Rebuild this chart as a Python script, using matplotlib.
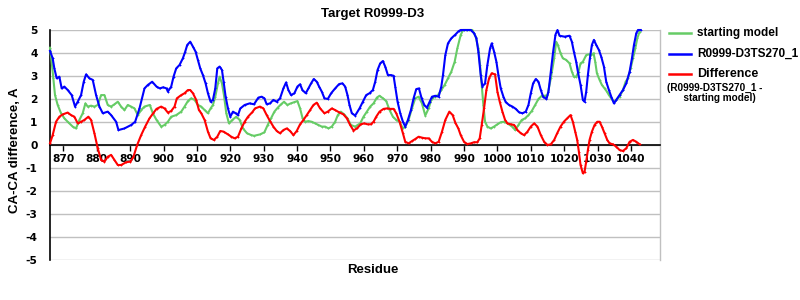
import matplotlib
matplotlib.use("Agg")
import matplotlib.pyplot as plt
from matplotlib.lines import Line2D
from matplotlib.font_manager import FontProperties

# ---- data ----
blue_x = [866.0, 866.8, 867.3, 868.0, 868.8, 869.5, 870.3, 871.3, 872.5, 873.5, 874.3, 875.3, 876.1, 876.8,
          877.8, 878.8, 879.8, 880.8, 881.8, 883.3, 884.3, 885.8, 886.5, 888.3, 890.3, 891.5, 892.8, 894.3,
          895.3, 896.6, 897.9, 898.9, 899.9, 900.9, 901.3, 902.3, 903.0, 903.8, 904.8, 905.8, 906.5, 907.1,
          908.0, 908.8, 909.6, 910.3, 911.0, 911.8, 912.6, 913.3, 914.1, 914.8, 915.5, 916.1, 916.8, 917.5,
          918.0, 918.6, 919.3, 920.0, 920.8, 921.6, 922.3, 923.0, 924.3, 925.8, 927.1, 928.4, 929.4, 930.2,
          930.9, 931.9, 932.9, 933.9, 934.9, 935.9, 936.7, 937.4, 938.2, 939.2, 940.1, 940.9, 941.6, 942.6,
          943.4, 944.2, 945.0, 945.9, 946.6, 947.4, 948.2, 949.2, 950.2, 951.4, 952.6, 953.6, 954.4, 955.1,
          955.7, 956.4, 957.4, 958.7, 959.7, 960.7, 961.7, 962.7, 963.4, 964.1, 964.9, 965.7, 966.4, 967.2,
          968.1, 968.9, 969.4, 970.1, 970.9, 971.7, 972.4, 973.2, 974.1, 974.9, 975.7, 976.5, 977.3, 978.1,
          978.9, 979.7, 980.4, 981.4, 982.4, 983.2, 983.7, 984.4, 985.2, 986.2, 987.4, 988.4, 989.0, 990.0,
          991.0, 992.0, 993.0, 993.7, 994.3, 995.0, 995.5, 996.3, 997.0, 997.8, 998.3, 999.0, 999.7, 1000.3,
          1001.0, 1001.8, 1002.5, 1003.5, 1004.5, 1005.5, 1006.5, 1007.5, 1008.5, 1009.3, 1010.0, 1010.7,
          1011.5, 1012.3, 1013.0, 1013.7, 1014.7, 1015.3, 1016.0, 1016.7, 1017.4, 1018.0, 1018.6, 1020.1,
          1021.6, 1022.3, 1022.9, 1023.6, 1024.1, 1024.9, 1025.6, 1026.1, 1026.6, 1027.1, 1027.7, 1028.3,
          1028.9, 1029.6, 1030.4, 1031.1, 1031.9, 1032.6, 1033.4, 1034.1, 1034.9, 1035.6, 1036.6, 1037.6,
          1038.6, 1039.6, 1040.3, 1040.9, 1041.6, 1042.1, 1042.9]
blue_y = [4.09, 3.77, 3.33, 2.90, 2.97, 2.46, 2.54, 2.39, 2.17, 1.67, 1.88, 2.17, 2.75, 3.07,
          2.90, 2.83, 2.17, 1.67, 1.38, 1.45, 1.30, 1.01, 0.65, 0.72, 0.87, 1.01, 1.59, 2.46,
          2.61, 2.75, 2.54, 2.46, 2.51, 2.46, 2.32, 2.54, 2.97, 3.33, 3.48, 3.77, 4.06, 4.35,
          4.49, 4.28, 4.06, 3.70, 3.33, 3.04, 2.68, 2.25, 1.88, 1.96, 2.46, 3.33, 3.41, 3.26,
          2.75, 2.10, 1.59, 1.23, 1.45, 1.38, 1.30, 1.59, 1.74, 1.81, 1.77, 2.06, 2.10, 2.03,
          1.77, 1.81, 1.96, 1.88, 2.03, 2.46, 2.72, 2.39, 2.17, 2.25, 2.54, 2.64, 2.39, 2.25,
          2.46, 2.68, 2.87, 2.75, 2.54, 2.32, 2.03, 2.00, 2.25, 2.46, 2.65, 2.68, 2.54, 2.17,
          1.74, 1.38, 1.28, 1.59, 1.88, 2.17, 2.25, 2.39, 2.75, 3.26, 3.55, 3.65, 3.41, 3.04,
          3.04, 3.01, 2.54, 1.88, 1.38, 1.01, 0.80, 1.09, 1.52, 2.03, 2.43, 2.46, 2.03, 1.74,
          1.62, 1.88, 2.10, 2.14, 2.10, 2.54, 3.04, 3.91, 4.42, 4.64, 4.80, 4.95, 5.00, 5.00,
          5.00, 5.00, 4.86, 4.64, 4.06, 3.04, 2.54, 2.68, 3.48, 4.20, 4.42, 4.06, 3.62, 3.04,
          2.46, 2.10, 1.86, 1.74, 1.67, 1.57, 1.42, 1.38, 1.45, 1.74, 2.25, 2.68,
          2.87, 2.75, 2.39, 2.10, 2.00, 2.32, 3.19, 4.06, 4.80, 5.00, 4.75, 4.71,
          4.75, 4.49, 4.06, 3.62, 3.19, 2.61, 1.96, 1.88, 2.32, 3.04, 3.77, 4.35,
          4.57, 4.35, 4.13, 3.84, 3.41, 2.75, 2.39, 2.10, 1.81, 1.96, 2.17, 2.39,
          2.68, 3.19, 3.77, 4.35, 4.86, 5.00, 5.00]

green_x = [866.0, 866.5, 867.0, 867.5, 868.3, 869.3, 870.3, 871.3, 872.8, 873.8, 874.8, 875.8, 876.6, 877.3,
           878.3, 879.3, 880.3, 881.3, 882.3, 883.3, 884.3, 885.3, 886.3, 887.3, 888.3, 889.3, 890.3, 891.3,
           892.3, 893.3, 894.3, 895.9, 896.8, 897.9, 899.3, 900.3, 901.3, 902.3, 903.8, 905.3, 906.3, 907.3,
           908.3, 909.3, 910.3, 911.3, 912.3, 913.3, 914.1, 914.8, 915.5, 916.3, 916.8, 917.5, 918.1, 918.8,
           919.6, 920.6, 921.8, 922.8, 923.8, 925.0, 926.3, 927.1, 928.9, 930.2, 931.2, 932.2, 933.2, 934.2,
           935.2, 936.1, 937.1, 938.1, 939.1, 940.1, 940.9, 941.6, 942.4, 943.4, 944.4, 945.4, 946.4, 947.4,
           948.4, 949.4, 950.4, 951.4, 952.2, 953.1, 954.1, 955.1, 956.1, 957.4, 958.9, 959.9, 960.9, 961.9,
           962.9, 963.9, 964.7, 965.7, 966.7, 967.7, 968.7, 969.7, 970.7, 971.7, 972.4, 973.4, 974.4, 975.4,
           976.4, 977.4, 978.4, 979.4, 980.2, 981.2, 982.2, 983.2, 984.2, 985.2, 986.2, 987.2, 988.0, 989.0,
           989.7, 990.5, 991.5, 992.5, 993.5, 994.3, 994.8, 995.3, 995.8, 996.3, 997.0, 998.0, 999.0, 1000.0,
           1001.0, 1002.0, 1003.0, 1003.7, 1004.5, 1005.3, 1006.3, 1007.3, 1008.3, 1009.3, 1010.3, 1011.3,
           1012.3, 1013.3, 1014.3, 1015.0, 1016.0, 1017.0, 1017.6, 1018.1, 1018.9, 1019.6, 1020.6, 1021.6,
           1022.3, 1022.9, 1023.6, 1024.3, 1024.9, 1025.6, 1026.6, 1027.3, 1028.1, 1028.8, 1029.3, 1029.8,
           1030.6, 1031.3, 1032.1, 1032.8, 1033.4, 1034.1, 1034.9, 1035.6, 1036.6, 1037.6, 1038.4, 1039.1,
           1039.9, 1040.6, 1041.3, 1041.9, 1042.6]
green_y = [4.23, 3.62, 2.90, 2.17, 1.74, 1.38, 1.16, 1.01, 0.80, 0.72, 1.09, 1.38, 1.81, 1.67,
           1.71, 1.67, 1.74, 2.17, 2.17, 1.74, 1.67, 1.77, 1.88, 1.67, 1.52, 1.74, 1.67, 1.59,
           1.30, 1.52, 1.67, 1.74, 1.38, 1.09, 0.80, 0.87, 1.01, 1.23, 1.30, 1.45, 1.67, 1.91,
           2.03, 1.96, 1.74, 1.67, 1.52, 1.38, 1.59, 1.74, 2.10, 2.68, 2.97, 2.68, 2.17, 1.38,
           0.94, 1.09, 1.23, 1.09, 0.72, 0.51, 0.43, 0.40, 0.46, 0.55, 0.87, 1.16, 1.45, 1.62,
           1.77, 1.88, 1.74, 1.81, 1.86, 1.91, 1.59, 1.19, 1.01, 1.04, 1.01, 0.94, 0.87, 0.80,
           0.80, 0.72, 0.80, 1.01, 1.30, 1.45, 1.33, 1.16, 0.87, 0.80, 0.94, 1.23, 1.45, 1.67,
           1.81, 2.06, 2.14, 2.03, 1.91, 1.52, 1.23, 1.09, 1.01, 0.72, 0.80, 1.09, 1.59, 2.03,
           2.10, 1.81, 1.28, 1.59, 1.96, 2.10, 2.17, 2.39, 2.61, 2.90, 3.19, 3.62, 4.20, 4.78,
           5.00, 5.00, 5.00, 5.00, 4.71, 4.20, 3.48, 2.61, 1.74, 1.01, 0.80, 0.72, 0.80, 0.90,
           0.99, 1.01, 0.94, 0.87, 0.80, 0.65, 0.87, 1.09, 1.16, 1.30, 1.48, 1.74,
           2.00, 2.14, 2.14, 2.17, 2.90, 3.77, 4.49, 4.35, 3.99, 3.77, 3.70, 3.55,
           3.19, 2.97, 2.97, 3.19, 3.55, 3.62, 3.91, 3.94, 3.91, 3.99, 3.62, 3.12,
           2.83, 2.61, 2.46, 2.32, 2.17, 2.03, 1.88, 1.96, 2.10, 2.39, 2.75, 2.90,
           3.33, 3.77, 4.20, 4.64, 4.93]

red_x = [866.0, 866.8, 867.8, 868.8, 869.8, 871.3, 872.3, 873.3, 874.3, 875.3, 876.3, 877.5, 878.3, 879.3,
         880.3, 881.3, 882.3, 883.3, 884.3, 885.3, 886.3, 887.3, 888.8, 890.1, 891.0, 892.1, 893.3, 894.5,
         895.8, 896.9, 897.9, 899.3, 900.3, 901.3, 902.3, 903.3, 904.0, 905.3, 906.3, 907.3, 908.0, 908.8,
         909.8, 910.6, 911.3, 912.3, 913.3, 914.1, 915.1, 916.1, 917.0, 918.0, 919.3, 920.3, 921.3, 922.3,
         923.3, 924.3, 925.3, 926.6, 927.4, 928.9, 929.9, 930.9, 931.9, 932.9, 933.9, 934.9, 935.9, 936.9,
         937.9, 938.9, 939.9, 940.9, 941.9, 942.9, 943.9, 944.9, 945.9, 946.9, 948.2, 949.2, 950.4, 951.4,
         952.6, 953.9, 954.9, 955.9, 956.9, 957.9, 959.1, 960.1, 961.1, 962.1, 962.9, 963.7, 964.7, 965.9,
         966.9, 967.9, 968.9, 969.7, 970.7, 971.7, 972.4, 973.4, 974.4, 975.4, 976.4, 977.4, 978.4, 979.4,
         980.4, 981.4, 982.4, 983.4, 984.4, 985.6, 986.6, 987.4, 988.3, 989.0, 990.0, 991.0, 992.0, 993.0,
         994.0, 994.7, 995.3, 996.0, 996.7, 997.5, 998.3, 999.3, 1000.0, 1000.7, 1001.5, 1002.3, 1003.0,
         1004.0, 1005.0, 1006.0, 1007.0, 1008.0, 1009.0, 1010.0, 1011.0, 1012.0, 1013.0, 1014.0, 1015.0,
         1016.0, 1017.0, 1017.9, 1018.9, 1019.9, 1020.9, 1021.9, 1022.6, 1023.3, 1023.9, 1024.4, 1024.9,
         1025.6, 1026.1, 1026.6, 1027.1, 1027.6, 1028.3, 1029.1, 1029.9, 1030.6, 1031.3, 1032.1, 1032.9,
         1033.6, 1034.6, 1035.6, 1036.6, 1037.6, 1038.6, 1039.6, 1040.6, 1041.6, 1042.6]
red_y = [0.07, 0.43, 1.01, 1.23, 1.33, 1.41, 1.30, 1.23, 0.94, 1.01, 1.09, 1.23, 1.09, 0.51,
         -0.14, -0.65, -0.72, -0.51, -0.43, -0.65, -0.87, -0.87, -0.75, -0.72, -0.51, 0.00, 0.43, 0.80,
         1.16, 1.38, 1.57, 1.67, 1.59, 1.41, 1.48, 1.67, 2.03, 2.17, 2.25, 2.39, 2.39, 2.25,
         1.96, 1.52, 1.38, 1.09, 0.58, 0.29, 0.22, 0.36, 0.61, 0.58, 0.46, 0.36, 0.29, 0.36,
         0.72, 1.01, 1.23, 1.43, 1.59, 1.67, 1.59, 1.30, 1.04, 0.80, 0.61, 0.51, 0.65, 0.72,
         0.61, 0.43, 0.61, 0.90, 1.09, 1.30, 1.52, 1.74, 1.84, 1.59, 1.38, 1.45, 1.59, 1.52,
         1.42, 1.33, 1.16, 0.87, 0.63, 0.72, 0.90, 0.94, 0.90, 0.90, 1.01, 1.23, 1.45, 1.57,
         1.59, 1.57, 1.57, 1.38, 1.01, 0.51, 0.14, 0.07, 0.17, 0.26, 0.36, 0.32, 0.29, 0.29,
         0.14, 0.07, 0.14, 0.58, 1.09, 1.45, 1.30, 0.97, 0.72, 0.43, 0.14, 0.04, 0.07, 0.12,
         0.12, 0.29, 0.87, 1.59, 2.39, 2.90, 3.12, 3.07, 2.32, 1.88, 1.45, 1.09, 0.94,
         0.90, 0.87, 0.65, 0.51, 0.43, 0.58, 0.80, 0.94, 0.80, 0.43, 0.14, 0.00,
         0.03, 0.22, 0.51, 0.80, 1.01, 1.16, 1.30, 1.01, 0.58, 0.22, -0.29, -0.87,
         -1.23, -1.16, -0.72, -0.22, 0.22, 0.58, 0.87, 1.01, 1.01, 0.80, 0.51, 0.22,
         0.07, 0.03, -0.07, -0.22, -0.26, -0.14, 0.14, 0.22, 0.14, 0.03]

x_ticks = list(range(870, 1041, 10))
y_ticks = list(range(-5, 6))

title = "Target R0999-D3"
xlabel = "Residue"
ylabel = "CA-CA difference, A"
names = ["starting model", "R0999-D3TS270_1", "Difference"]
sub_name = "(R0999-D3TS270_1 -\n      starting model)"

GREEN = "#66CC66"
BLUE = "#0000FF"
RED = "#FF0000"

fig = plt.figure(figsize=(8, 3), dpi=100)
W, H = 800, 300
L, R, T, B = 50, 660, 30, 260
ax = fig.add_axes([L / W, 1 - B / H, (R - L) / W, (B - T) / H])

lk = dict(lw=1.5, marker="+", ms=2, mew=0.6, clip_on=False, solid_joinstyle="round")
ax.plot(green_x, green_y, color=GREEN, zorder=3, **lk)
ax.plot(blue_x, blue_y, color=BLUE, zorder=4, **lk)
ax.plot(red_x, red_y, color=RED, zorder=5, **lk)

ax.set_xlim(866, 1048.7)
ax.set_ylim(-5, 5)
ax.set_yticks(y_ticks)
ax.set_xticks(x_ticks)
ax.yaxis.grid(True, color="#C0C0C0", lw=1)
ax.set_axisbelow(True)

ax.spines["right"].set_color("#C0C0C0")
ax.spines["right"].set_linewidth(1)
ax.spines["top"].set_visible(False)
ax.spines["left"].set_color("black")
ax.spines["left"].set_linewidth(1.2)
ax.spines["bottom"].set_position(("data", 0))
ax.spines["bottom"].set_color("black")
ax.spines["bottom"].set_linewidth(1.2)

tick_fp = FontProperties(family="DejaVu Sans", weight="bold", size=7.7)
ax.tick_params(axis="x", direction="out", length=4, width=1, pad=2.5)
ax.tick_params(axis="y", length=0, pad=9)
ax.set_yticklabels([str(v) for v in y_ticks])
for lab in ax.get_xticklabels() + ax.get_yticklabels():
    lab.set_fontproperties(tick_fp)

lab_font = dict(family="Liberation Sans", weight="bold", size=9.5)
fig.text(373 / W, 1 - 14 / H, title, ha="center", va="center", **lab_font)
fig.text(373 / W, 1 - 270 / H, xlabel, ha="center", va="center", **lab_font)
fig.text(15 / W, 1 - 150 / H, ylabel, ha="center", va="center", rotation=90, **lab_font)

# legend (outside the plot, at the right)
leg_font = dict(family="Liberation Sans", weight="bold")
for (yy, col, name, sz) in [(33, GREEN, names[0], 8.5), (54, BLUE, names[1], 8.5), (74, RED, names[2], 9)]:
    fig.add_artist(Line2D([669 / W, 691 / W], [1 - yy / H, 1 - yy / H], color=col, lw=1.8,
                          transform=fig.transFigure))
    fig.text(697 / W, 1 - yy / H, name, ha="left", va="center", size=sz, **leg_font)
fig.text(667 / W, 1 - 93 / H, sub_name, ha="left", va="center", size=7.2, linespacing=1.05, **leg_font)

fig.savefig("out.png", dpi=100)
